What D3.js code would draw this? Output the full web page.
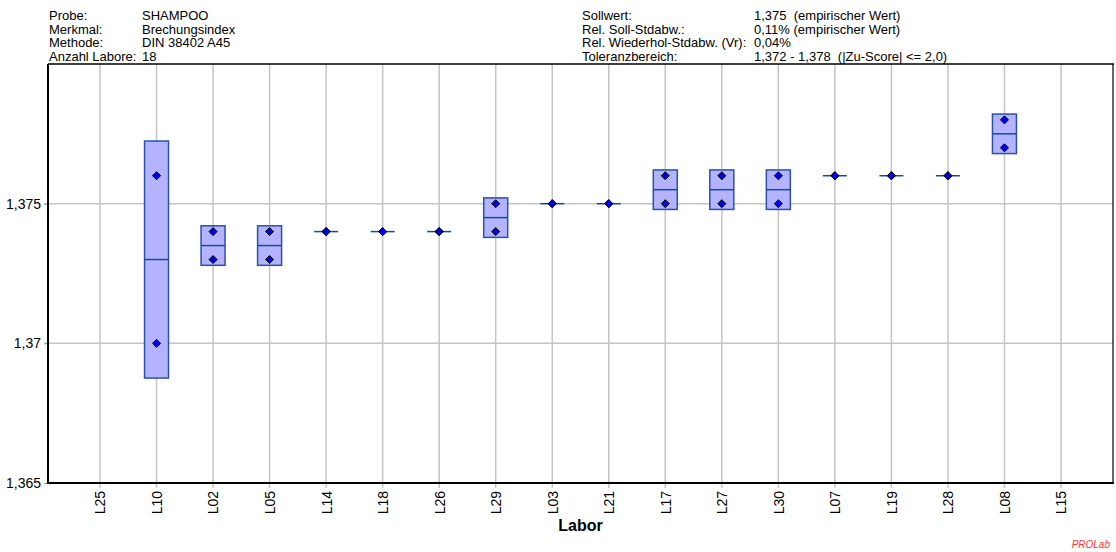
<!DOCTYPE html>
<html>
<head>
<meta charset="utf-8">
<script src="https://cdn.jsdelivr.net/npm/d3@7"></script>
<style>
  body { margin: 0; background: #fff; }
  text { font-family: "Liberation Sans", Arial, sans-serif; }
</style>
</head>
<body>
<script>
// Labs in plotted order
var labs = ["L25", "L10", "L02", "L05", "L14", "L18", "L26", "L29", "L03",
            "L21", "L17", "L27", "L30", "L07", "L19", "L28", "L08", "L15"];
// Two replicate values per lab (empty = no result)
var run1 = [null, 1.376, 1.374, 1.374, 1.374, 1.374, 1.374, 1.375, 1.375,
            1.375, 1.376, 1.376, 1.376, 1.376, 1.376, 1.376, 1.378, null];
var run2 = [null, 1.370, 1.373, 1.373, 1.374, 1.374, 1.374, 1.374, 1.375,
            1.375, 1.375, 1.375, 1.375, 1.376, 1.376, 1.376, 1.377, null];

var yTicks = [1.365, 1.37, 1.375];
var yTickLabels = ["1,365", "1,37", "1,375"];

var headerLeft = [["Probe:", "SHAMPOO"], ["Merkmal:", "Brechungsindex"],
                  ["Methode:", "DIN 38402 A45"], ["Anzahl Labore:", "18"]];
var headerRight = [["Sollwert:", "1,375  (empirischer Wert)"],
                   ["Rel. Soll-Stdabw.:", "0,11% (empirischer Wert)"],
                   ["Rel. Wiederhol-Stdabw. (Vr):", "0,04%"],
                   ["Toleranzbereich:", "1,372 - 1,378  (|Zu-Score| <= 2,0)"]];

var w = 1116, h = 552;
var pLeft = 48, pRight = 1113, pTop = 64, pBottom = 483;

var svg = d3.select("body").append("svg")
    .attr("width", w)
    .attr("height", h);

var xScale = d3.scalePoint()
    .domain(labs)
    .range([pLeft, pRight])
    .padding(0.92);

var yScale = d3.scaleLinear()
    .domain([1.365, 1.380])
    .range([pBottom, pTop]);

// grid
svg.append("g").selectAll("line")
    .data(labs)
    .enter().append("line")
    .attr("x1", function(d) { return xScale(d); })
    .attr("x2", function(d) { return xScale(d); })
    .attr("y1", pTop)
    .attr("y2", pBottom + 5)
    .attr("stroke", "#c4c4c4")
    .attr("stroke-width", 1.5);

svg.append("g").selectAll("line")
    .data(yTicks.slice(1))
    .enter().append("line")
    .attr("x1", pLeft - 4)
    .attr("x2", pRight)
    .attr("y1", function(d) { return yScale(d); })
    .attr("y2", function(d) { return yScale(d); })
    .attr("stroke", "#c4c4c4")
    .attr("stroke-width", 1.5);

// y axis labels
var yAxis = d3.axisLeft(yScale)
    .tickValues(yTicks)
    .tickSize(4)
    .tickFormat(function(d, i) { return yTickLabels[i]; });

var gy = svg.append("g")
    .attr("transform", "translate(" + pLeft + ",0)")
    .call(yAxis);
gy.select(".domain").remove();
gy.selectAll(".tick line").attr("stroke", "#999");
gy.selectAll(".tick text")
    .attr("font-size", 14)
    .attr("fill", "#000")
    .attr("x", -7);

// x axis labels
var xAxis = d3.axisBottom(xScale).tickSize(0);
var gx = svg.append("g")
    .attr("transform", "translate(0," + pBottom + ")")
    .call(xAxis);
gx.select(".domain").remove();
gx.selectAll(".tick text")
    .attr("font-size", 14)
    .attr("fill", "#000")
    .attr("transform", "rotate(-90)")
    .attr("x", -8)
    .attr("y", 0)
    .attr("dy", "0.35em")
    .attr("text-anchor", "end");

// frame
svg.append("line").attr("x1", pLeft).attr("x2", pRight + 1).attr("y1", pTop).attr("y2", pTop)
    .attr("stroke", "#000").attr("stroke-width", 1.5);
svg.append("line").attr("x1", pRight).attr("x2", pRight).attr("y1", pTop).attr("y2", pBottom)
    .attr("stroke", "#000").attr("stroke-width", 1.2);
svg.append("line").attr("x1", pLeft).attr("x2", pLeft).attr("y1", pTop).attr("y2", pBottom + 1)
    .attr("stroke", "#000").attr("stroke-width", 2);
svg.append("line").attr("x1", pLeft).attr("x2", pRight + 1).attr("y1", pBottom).attr("y2", pBottom)
    .attr("stroke", "#000").attr("stroke-width", 2);

// boxes: mean +/- standard deviation of the replicates
var boxData = [];
labs.forEach(function(lab, i) {
    if (run1[i] == null) return;
    var vals = [run1[i], run2[i]];
    boxData.push({ lab: lab, vals: vals, mean: d3.mean(vals), sd: d3.deviation(vals) || 0 });
});

var boxW = 24;
var boxes = svg.append("g").selectAll("g")
    .data(boxData)
    .enter().append("g");

boxes.filter(function(d) { return d.sd > 1e-9; })
    .append("rect")
    .attr("x", function(d) { return xScale(d.lab) - boxW / 2; })
    .attr("y", function(d) { return yScale(d.mean + d.sd); })
    .attr("width", boxW)
    .attr("height", function(d) { return yScale(d.mean - d.sd) - yScale(d.mean + d.sd); })
    .attr("fill", "#b3b3ff")
    .attr("stroke", "#2a52a8")
    .attr("stroke-width", 1.5);

boxes.append("line")
    .attr("x1", function(d) { return xScale(d.lab) - boxW / 2; })
    .attr("x2", function(d) { return xScale(d.lab) + boxW / 2; })
    .attr("y1", function(d) { return yScale(d.mean); })
    .attr("y2", function(d) { return yScale(d.mean); })
    .attr("stroke", "#184a9c")
    .attr("stroke-width", 1.5);

// points
var pts = [];
boxData.forEach(function(d) {
    d.vals.forEach(function(v) { pts.push({ lab: d.lab, v: v }); });
});
svg.append("g").selectAll("path")
    .data(pts)
    .enter().append("path")
    .attr("d", "M0,-4L4,0L0,4L-4,0Z")
    .attr("transform", function(d) { return "translate(" + xScale(d.lab) + "," + yScale(d.v) + ")"; })
    .attr("fill", "#0000ee")
    .attr("stroke", "#000")
    .attr("stroke-width", 1);

// axis title
svg.append("text")
    .attr("x", (pLeft + pRight) / 2)
    .attr("y", 531)
    .attr("text-anchor", "middle")
    .attr("font-size", 16)
    .attr("font-weight", "bold")
    .text("Labor");

// header
var hl = svg.append("g").selectAll("g").data(headerLeft).enter().append("g");
hl.append("text").attr("x", 49).attr("y", function(d, i) { return 20 + i * 13.7; })
    .attr("font-size", 13).text(function(d) { return d[0]; });
hl.append("text").attr("x", 142).attr("y", function(d, i) { return 20 + i * 13.7; })
    .attr("font-size", 13).text(function(d) { return d[1]; });

var hr = svg.append("g").selectAll("g").data(headerRight).enter().append("g");
hr.append("text").attr("x", 582).attr("y", function(d, i) { return 20 + i * 13.7; })
    .attr("font-size", 13).text(function(d) { return d[0]; });
hr.append("text").attr("x", 754).attr("y", function(d, i) { return 20 + i * 13.7; })
    .attr("font-size", 13).style("white-space", "pre")
    .text(function(d) { return d[1]; });

svg.append("text")
    .attr("x", 1110)
    .attr("y", 548)
    .attr("text-anchor", "end")
    .attr("font-size", 10)
    .attr("font-style", "italic")
    .attr("fill", "#ff3333")
    .text("PROLab");
</script>
</body>
</html>
